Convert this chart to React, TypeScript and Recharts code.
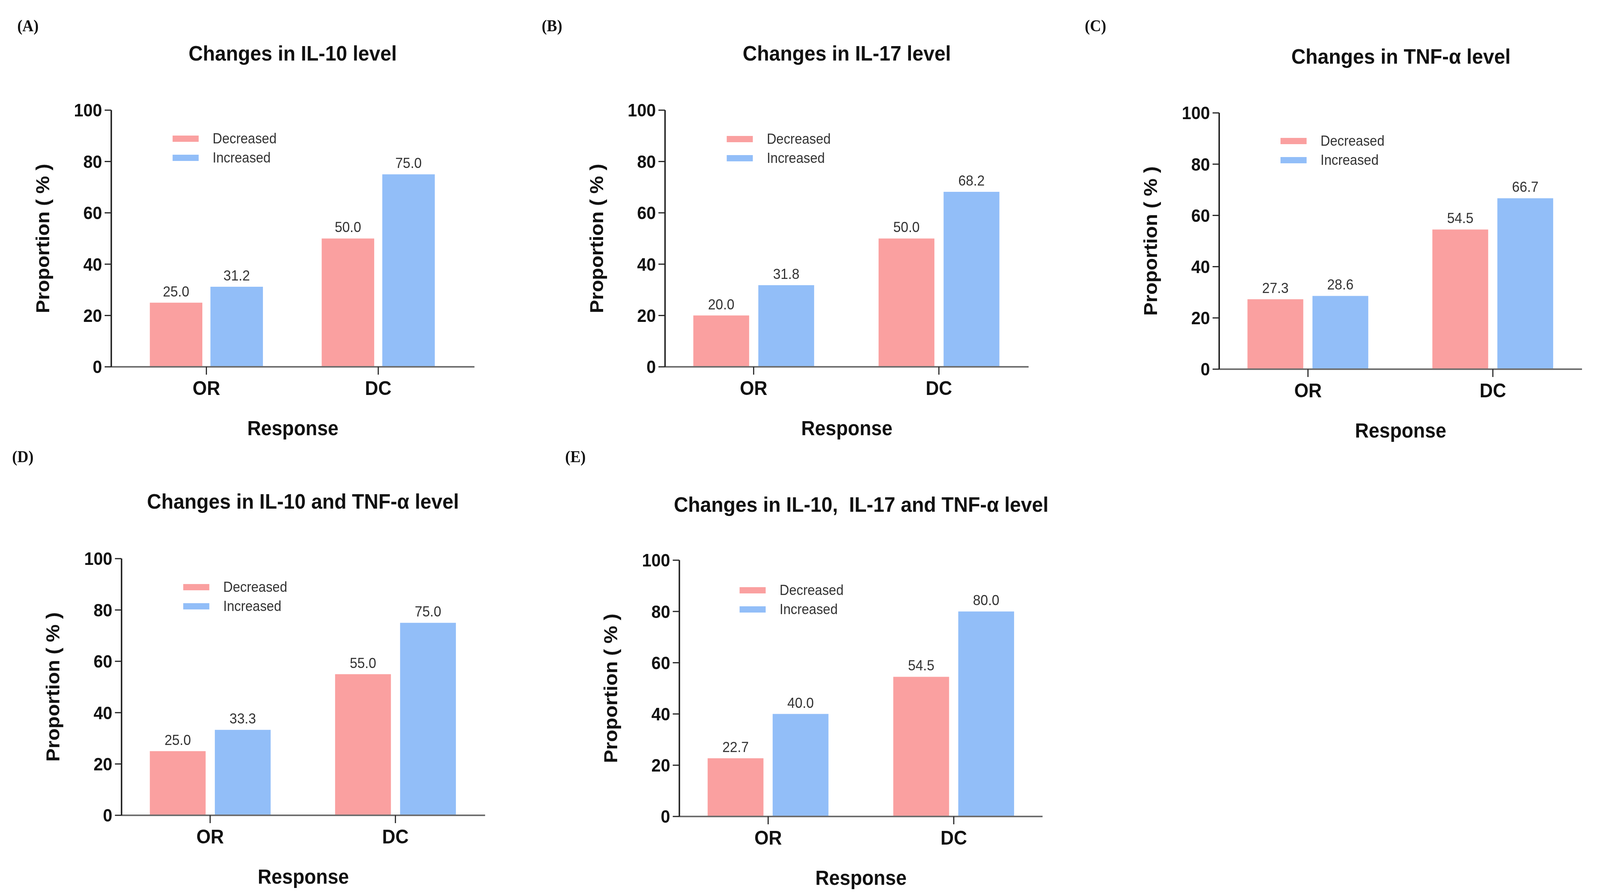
import React from 'react'
import { BarChart, Bar, XAxis, YAxis, Legend, LabelList } from 'recharts'

// shared axis values
const categories = ['OR', 'DC']
const seriesNames = ['Decreased', 'Increased']
const yTicks = [0, 20, 40, 60, 80, 100]

// values per panel (%)
const il10Decreased = [25.0, 50.0]
const il10Increased = [31.2, 75.0]
const il17Decreased = [20.0, 50.0]
const il17Increased = [31.8, 68.2]
const tnfDecreased = [27.3, 54.5]
const tnfIncreased = [28.6, 66.7]
const il10TnfDecreased = [25.0, 55.0]
const il10TnfIncreased = [33.3, 75.0]
const allDecreased = [22.7, 54.5]
const allIncreased = [40.0, 80.0]

const panelLetters = ['(A)', '(B)', '(C)', '(D)', '(E)']
const panelTitles = [
  'Changes in IL-10 level',
  'Changes in IL-17 level',
  'Changes in TNF-α level',
  'Changes in IL-10 and TNF-α level',
  'Changes in IL-10,  IL-17 and TNF-α level',
]

const RED = '#FAA0A0'
const BLUE = '#92BEF8'
const SANS = '"Liberation Sans", Arial, sans-serif'
const SERIF = '"Liberation Serif", "Times New Roman", serif'
const PAGE_W = 4357
const PAGE_H = 2291

type Layout = {
  x0: number
  x1: number
  yTop: number
  y0: number
  padL: number
  padR: number
  bar: number
  gap: number
  titleX: number
  titleY: number
  letterX: number
  letterY: number
  legendX: number
  legendY: number
}

// pixel layout of each panel on the page
const layouts: Layout[] = [
  { x0: 303, x1: 1292, yTop: 282, y0: 939, padL: 25, padR: 28, bar: 143, gap: 22, titleX: 797, titleY: 136, letterX: 47, letterY: 66, legendX: 470, legendY: 355 },
  { x0: 1811, x1: 2801, yTop: 282, y0: 939, padL: -11, padR: -8, bar: 152, gap: 25, titleX: 2306, titleY: 136, letterX: 1475, letterY: 66, legendX: 1979, legendY: 356 },
  { x0: 3320, x1: 4308, yTop: 289, y0: 945, padL: -10, padR: -9, bar: 152, gap: 25, titleX: 3815, titleY: 144, letterX: 2954, letterY: 66, legendX: 3487, legendY: 361 },
  { x0: 331, x1: 1321, yTop: 1430, y0: 2087, padL: -11, padR: -8, bar: 152, gap: 25, titleX: 825, titleY: 1283, letterX: 33, letterY: 1169, legendX: 499, legendY: 1503 },
  { x0: 1850, x1: 2839, yTop: 1434, y0: 2090, padL: -11, padR: -11, bar: 152, gap: 25, titleX: 2345, titleY: 1291, letterX: 1539, letterY: 1169, legendX: 2014, legendY: 1511 },
]

const makeData = (dec: number[], inc: number[]) =>
  categories.map((c, i) => ({ cat: c, dec: dec[i], inc: inc[i] }))

const panelData = [
  makeData(il10Decreased, il10Increased),
  makeData(il17Decreased, il17Increased),
  makeData(tnfDecreased, tnfIncreased),
  makeData(il10TnfDecreased, il10TnfIncreased),
  makeData(allDecreased, allIncreased),
]

const fmt = (v: any) => Number(v).toFixed(1)

const renderLegend = (props: any) => {
  const { payload } = props
  return (
    <div>
      {(payload || []).map((p: any, i: number) => (
        <div key={i} style={{ display: 'flex', alignItems: 'center', height: 49 }}>
          <span style={{ display: 'inline-block', width: 71, height: 16, background: p.color }} />
          <span style={{ marginLeft: 38, fontSize: 36, color: '#333', fontFamily: SANS, lineHeight: '40px' }}>
            {p.value}
          </span>
        </div>
      ))}
    </div>
  )
}

function Panel({ idx }: { idx: number }) {
  const L = layouts[idx]
  const data = panelData[idx]
  const axisW = 240
  const mTop = 40
  const xH = 200
  const left = L.x0 - axisW
  const top = L.yTop - mTop
  const width = axisW + (L.x1 - L.x0) + 20
  const height = mTop + (L.y0 - L.yTop) + xH

  return (
    <>
      <div
        style={{
          position: 'absolute',
          left: L.letterX,
          top: L.letterY - 22,
          fontFamily: SERIF,
          fontWeight: 700,
          fontSize: 42,
          lineHeight: '44px',
          color: '#111',
        }}
      >
        {panelLetters[idx]}
      </div>
      <div
        style={{
          position: 'absolute',
          left: L.titleX - 800,
          top: L.titleY - 30,
          width: 1600,
          textAlign: 'center',
          fontFamily: SANS,
          fontWeight: 700,
          fontSize: 54,
          lineHeight: '60px',
          whiteSpace: 'pre',
          color: '#111',
        }}
      >
        {panelTitles[idx]}
      </div>
      <div style={{ position: 'absolute', left, top }}>
        <BarChart
          width={width}
          height={height}
          data={data}
          margin={{ top: mTop, right: 20, bottom: 0, left: 0 }}
          barGap={L.gap}
        >
          <XAxis
            dataKey="cat"
            height={xH}
            padding={{ left: L.padL, right: L.padR }}
            axisLine={{ stroke: '#6e6e6e', strokeWidth: 4 }}
            tickLine={{ stroke: '#222', strokeWidth: 3 }}
            tickSize={20}
            tickMargin={17}
            tick={{ fontSize: 50, fontWeight: 700, fill: '#111', fontFamily: SANS }}
            label={{
              value: 'Response',
              position: 'insideBottom',
              offset: 25,
              fontSize: 52,
              fontWeight: 700,
              fill: '#111',
              fontFamily: SANS,
            }}
          />
          <YAxis
            width={axisW}
            domain={[0, 100]}
            ticks={yTicks}
            interval={0}
            axisLine={{ stroke: '#222', strokeWidth: 4 }}
            tickLine={{ stroke: '#222', strokeWidth: 3 }}
            tickSize={18}
            tickMargin={7}
            tick={{ fontSize: 46, fontWeight: 700, fill: '#111', fontFamily: SANS }}
            label={{
              value: 'Proportion ( % )',
              angle: -90,
              position: 'insideLeft',
              offset: 53,
              textAnchor: 'middle',
              style: { textAnchor: 'middle' },
              fontSize: 51,
              fontWeight: 700,
              fill: '#111',
              fontFamily: SANS,
            }}
          />
          <Legend
            layout="vertical"
            align="center"
            verticalAlign="middle"
            wrapperStyle={{ left: L.legendX - left, top: L.legendY - 24.5 - top, width: 420 }}
            content={renderLegend}
          />
          <Bar dataKey="dec" name={seriesNames[0]} fill={RED} barSize={L.bar} isAnimationActive={false}>
            <LabelList dataKey="dec" position="top" offset={16} formatter={fmt} fontSize={37} fill="#333" fontFamily={SANS} />
          </Bar>
          <Bar dataKey="inc" name={seriesNames[1]} fill={BLUE} barSize={L.bar} isAnimationActive={false}>
            <LabelList dataKey="inc" position="top" offset={16} formatter={fmt} fontSize={37} fill="#333" fontFamily={SANS} />
          </Bar>
        </BarChart>
      </div>
    </>
  )
}

export default function App() {
  // the window may be narrower than the figure, so fit the figure to it
  const vw = typeof window !== 'undefined' ? window.innerWidth : PAGE_W
  const vh = typeof window !== 'undefined' ? window.innerHeight : PAGE_H
  const sx = vw / PAGE_W
  const sy = vh / PAGE_H
  return (
    <div style={{ position: 'fixed', left: 0, top: 0, width: vw, height: vh, overflow: 'hidden', background: '#fff' }}>
      <div
        style={{
          position: 'absolute',
          left: 0,
          top: 0,
          width: PAGE_W,
          height: PAGE_H,
          transform: `scale(${sx}, ${sy})`,
          transformOrigin: '0 0',
        }}
      >
        {layouts.map((_, i) => (
          <Panel key={i} idx={i} />
        ))}
      </div>
    </div>
  )
}
